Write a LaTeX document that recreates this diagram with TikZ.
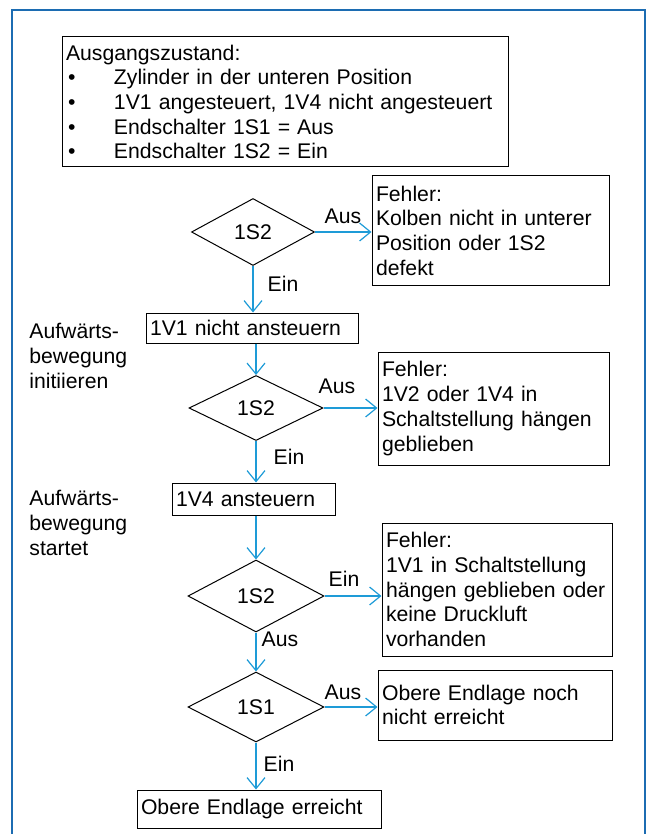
\documentclass[tikz,border=0pt]{standalone}
\usepackage{fontspec}
\setmainfont{Liberation Sans}
\usetikzlibrary{shapes.geometric,arrows.meta}
\definecolor{framecol}{RGB}{28,108,178}
\definecolor{arrcol}{RGB}{30,155,215}
\newcommand{\bul}{\makebox[24pt][l]{\hspace{1pt}•}}
\begin{document}
\begin{tikzpicture}[x=0.5pt,y=-0.5pt,
  txt/.style={font=\fontsize{10.6pt}{12.35pt}\selectfont},
  box/.style={txt, draw=black, line width=0.5pt, inner sep=2pt, align=left},
  dec/.style={txt, draw=black, line width=0.5pt, diamond, inner sep=0pt},
  conn/.style={draw=arrcol, line width=0.6pt, -{Straight Barb[length=5.5pt,width=9pt]}},
  lbl/.style={txt, inner sep=0pt},
  side/.style={txt, inner sep=0pt, align=left, anchor=north west}]
\path[use as bounding box] (0,0) rectangle (657,834);
\draw[framecol, line width=1pt] (12,834) -- (12,10) -- (645,10) -- (645,834);

\node[box, text width=219pt, minimum height=65pt] (init) at (285,102)
  {Ausgangszustand:\\
   \bul Zylinder in der unteren Position\\
   \bul 1V1 angesteuert, 1V4 nicht angesteuert\\
   \bul Endschalter 1S1 = Aus\\
   \bul Endschalter 1S2 = Ein};

\node[dec, minimum width=61.5pt, minimum height=33.5pt] (d1) at (253,232) {1S2};
\node[box, text width=114.5pt, minimum height=54.5pt] (f1) at (490.5,230.5)
  {Fehler:\\Kolben nicht in unterer\\Position oder 1S2\\defekt};
\node[lbl] (l1) at (343,216) {Aus};
\node[lbl] (l2) at (283,284) {Ein};
\node[box, text width=102pt, minimum height=15pt] (b1) at (252,328) {1V1 nicht ansteuern};
\node[side] (s1) at (29,323) {Aufwärts-\\bewegung\\initiieren};

\node[dec, minimum width=67pt, minimum height=32.5pt] (d2) at (256,408) {1S2};
\node[box, text width=111.5pt, minimum height=56.5pt] (f2) at (493.5,408.5)
  {Fehler:\\1V2 oder 1V4 in\\Schaltstellung hängen\\geblieben};
\node[lbl] (l3) at (337,386) {Aus};
\node[lbl] (l4) at (289,457) {Ein};
\node[box, text width=77.5pt, minimum height=16pt] (b2) at (253.5,499) {1V4 ansteuern};
\node[side] (s2) at (29,490) {Aufwärts-\\bewegung\\startet};

\node[dec, minimum width=68pt, minimum height=36pt] (d3) at (256,596) {1S2};
\node[box, text width=111pt, minimum height=66.5pt] (f3) at (497,589.5)
  {Fehler:\\1V1 in Schaltstellung\\hängen geblieben oder\\keine Druckluft\\vorhanden};
\node[lbl] (l5) at (344,579) {Ein};
\node[lbl] (l6) at (280,639) {Aus};

\node[dec, minimum width=68pt, minimum height=35pt] (d4) at (256,707) {1S1};
\node[box, text width=113pt, minimum height=35pt] (f4) at (495,705)
  {Obere Endlage noch\\nicht erreicht};
\node[lbl] (l7) at (343,692) {Aus};
\node[lbl] (l8) at (279,764) {Ein};
\node[box, text width=118pt, minimum height=19pt] (b3) at (259,809) {Obere Endlage erreicht};

\draw[conn] (d1.east) -- (d1.east -| f1.west);
\draw[conn] (d1.south) -- (d1.south |- b1.north);
\draw[conn] (b1.south -| d2.north) -- (d2.north);
\draw[conn] (d2.east) -- (d2.east -| f2.west);
\draw[conn] (d2.south) -- (d2.south |- b2.north);
\draw[conn] (b2.south -| d3.north) -- (d3.north);
\draw[conn] (d3.east) -- (d3.east -| f3.west);
\draw[conn] (d3.south) -- (d4.north);
\draw[conn] (d4.east) -- (d4.east -| f4.west);
\draw[conn] (d4.south) -- (d4.south |- b3.north);
\end{tikzpicture}
\end{document}
